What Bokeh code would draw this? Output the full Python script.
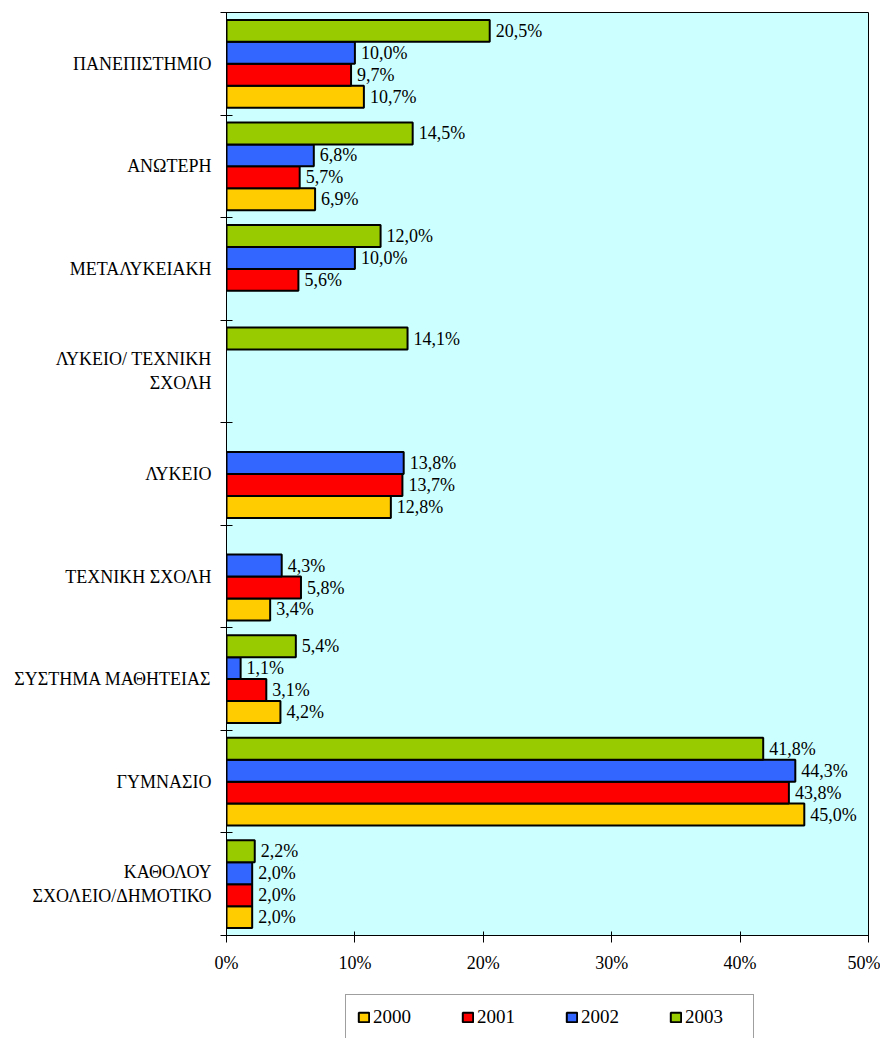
from bokeh.plotting import figure
from bokeh.layouts import column
from bokeh.models import (ColumnDataSource, Range1d, FixedTicker, PrintfTickFormatter,
                          Legend, LegendItem)
from bokeh.transform import dodge
from bokeh.core.properties import value
from bokeh.embed import file_html
from bokeh.resources import INLINE

categories = ["ΠΑΝΕΠΙΣΤΗΜΙΟ", "ΑΝΩΤΕΡΗ", "ΜΕΤΑΛΥΚΕΙΑΚΗ", "ΛΥΚΕΙΟ/ ΤΕΧΝΙΚΗ\nΣΧΟΛΗ",
              "ΛΥΚΕΙΟ", "ΤΕΧΝΙΚΗ ΣΧΟΛΗ", "ΣΥΣΤΗΜΑ ΜΑΘΗΤΕΙΑΣ", "ΓΥΜΝΑΣΙΟ",
              "ΚΑΘΟΛΟΥ\nΣΧΟΛΕΙΟ/ΔΗΜΟΤΙΚΟ"]
years = ["2000", "2001", "2002", "2003"]
v2000 = [10.7, 6.9, None, None, 12.8, 3.4, 4.2, 45.0, 2.0]
v2001 = [9.7, 5.7, 5.6, None, 13.7, 5.8, 3.1, 43.8, 2.0]
v2002 = [10.0, 6.8, 10.0, None, 13.8, 4.3, 1.1, 44.3, 2.0]
v2003 = [20.5, 14.5, 12.0, 14.1, None, None, 5.4, 41.8, 2.2]
x_ticks = [0, 10, 20, 30, 40, 50]

series = [v2000, v2001, v2002, v2003]
colors = ["#FFCC00", "#FF0000", "#3366FF", "#99CC00"]
offsets = [0.321, 0.107, -0.107, -0.321]
bar_h = 0.214
FONT = "Liberation Serif"

n = len(categories)
p = figure(width=880, height=985, output_backend="svg", toolbar_location=None,
           x_range=Range1d(0, 50), y_range=Range1d(n, 0),
           min_border_left=226, min_border_right=12, min_border_top=12,
           min_border_bottom=50)
p.background_fill_color = "#CCFFFF"
p.border_fill_color = "white"
p.outline_line_color = "black"
p.outline_line_width = 1
p.xgrid.visible = False
p.ygrid.visible = False

# legend strip below the chart
pl = figure(width=880, height=53, output_backend="svg", toolbar_location=None,
            x_range=p.x_range, y_range=Range1d(n, 0),
            x_axis_location=None, y_axis_location=None,
            min_border_left=0, min_border_right=0, min_border_top=0,
            min_border_bottom=0)
pl.xgrid.visible = False
pl.ygrid.visible = False
pl.background_fill_color = "white"
pl.border_fill_color = "white"
pl.outline_line_color = None

items = []
for yr, vals, col, off in zip(years, series, colors, offsets):
    pos = [i + 0.5 for i, v in enumerate(vals) if v is not None]
    vv = [v for v in vals if v is not None]
    labels = [("%.1f" % v).replace(".", ",") + "%" for v in vv]
    src = ColumnDataSource(dict(pos=pos, val=vv, lab=labels))
    p.hbar(y=dodge("pos", off, range=p.y_range), right="val", left=0, height=bar_h,
           source=src, fill_color=col, line_color="black", line_width=2)
    p.text(x="val", y=dodge("pos", off, range=p.y_range), text="lab", source=src,
           x_offset=6, text_baseline="middle", text_align="left",
           text_font=value(FONT), text_font_size="18px", text_color="black")
    r = pl.hbar(y="pos", right="val", left=0, height=bar_h, source=src,
                fill_color=col, line_color="black", line_width=2, visible=False)
    items.append(LegendItem(label=yr, renderers=[r]))

# x axis
xa = p.xaxis[0]
xa.ticker = FixedTicker(ticks=x_ticks)
xa.formatter = PrintfTickFormatter(format="%d%%")
xa.major_tick_in = 4
xa.major_tick_out = 7
xa.minor_tick_in = 0
xa.minor_tick_out = 0
xa.axis_line_color = "black"
xa.major_tick_line_color = "black"
xa.major_label_text_font = FONT
xa.major_label_text_font_size = "18px"
xa.major_label_text_color = "black"
xa.major_label_standoff = 10

# y axis
ya = p.yaxis[0]
centers = [i + 0.5 for i in range(n)]
ya.ticker = FixedTicker(ticks=centers, minor_ticks=list(range(n + 1)))
ya.major_label_overrides = {c: lab for c, lab in zip(centers, categories)}
ya.major_tick_in = 0
ya.major_tick_out = 0
ya.minor_tick_in = 6
ya.minor_tick_out = 6
ya.minor_tick_line_color = "black"
ya.axis_line_color = "black"
ya.major_label_text_font = FONT
ya.major_label_text_font_size = "18px"
ya.major_label_text_color = "black"
ya.major_label_standoff = 9

legend = Legend(items=items, orientation="horizontal", location=(119, -2),
                margin=0, padding=11, spacing=31, label_width=57, label_standoff=3,
                glyph_width=13, glyph_height=12, label_height=20,
                label_text_font=FONT, label_text_font_size="19px",
                label_text_color="black", click_policy="none",
                border_line_color="#404040", border_line_width=1,
                background_fill_color="white", background_fill_alpha=1)
pl.add_layout(legend, "center")

layout = column(p, pl, spacing=0)
open("out.html", "w").write(file_html(layout, INLINE))
